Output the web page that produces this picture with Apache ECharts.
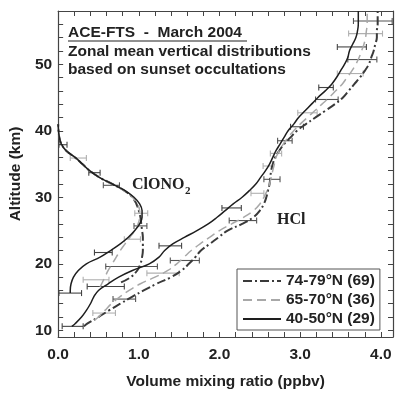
<!DOCTYPE html>
<html>
<head>
<meta charset="utf-8">
<script src="https://cdn.jsdelivr.net/npm/echarts@6/dist/echarts.min.js"></script>
<style>html,body{margin:0;padding:0;background:#fff}#c{width:395px;height:395px}</style>
</head>
<body>
<div id="c"></div>
<script>
// ---------- data (altitude in km, mixing ratio in ppbv) ----------
const seriesNames = ['74-79°N (69)', '65-70°N (36)', '40-50°N (29)'];

// ClONO2 profiles
const clono2AltDD = [17.2,18,19,20,21,22,23,24,25,26,27,28,29,30,31,32,33,34,35,36,37,38,39,40,41];
const clono2DD    = [0.78,0.9,0.98,1.02,1.04,1.05,1.05,1.05,1.04,1.03,1.02,1.0,0.97,0.92,0.82,0.67,0.51,0.39,0.30,0.21,0.10,0.04,0.015,0.005,0.0];
const clono2AltDa = [16.5,17,18,19,20,21,22,23,24,25,26,27,28,29,30,31,32,33,34,35,36,37,38,39,40,41];
const clono2Da    = [0.52,0.54,0.58,0.62,0.67,0.72,0.77,0.83,0.89,0.95,0.99,1.01,1.01,0.98,0.92,0.82,0.66,0.51,0.39,0.30,0.21,0.10,0.04,0.015,0.005,0.0];
const clono2AltSo = [15.6,16,17,18,19,20,21,22,23,24,25,26,27,28,29,30,31,32,33,34,35,36,37,38,39,40,41];
const clono2So    = [0.15,0.15,0.16,0.19,0.25,0.35,0.52,0.65,0.77,0.87,0.95,1.01,1.04,1.04,1.01,0.94,0.83,0.67,0.51,0.39,0.30,0.21,0.10,0.04,0.015,0.005,0.0];

// HCl profiles
const hclAltDD = [10.6,11,12,13,14,15,16,17,18,19,20,21,22,23,24,25,26,27,28,29,30,31,32,33,34,35,36,37,38,39,40,41,42,43,44,45,46,47,48,49,50,51,52,53,54,55,56,58];
const hclDD    = [0.32,0.36,0.5,0.63,0.77,0.91,1.06,1.22,1.4,1.53,1.62,1.7,1.77,1.88,1.99,2.1,2.28,2.42,2.5,2.55,2.58,2.6,2.62,2.63,2.64,2.66,2.69,2.74,2.8,2.88,2.96,3.07,3.19,3.31,3.43,3.53,3.6,3.67,3.74,3.8,3.85,3.88,3.91,3.93,3.95,3.95,3.96,3.96];
const hclAltDa = [11.5,12,13,14,15,16,17,18,19,20,21,22,23,24,25,26,27,28,29,30,31,32,33,34,35,36,37,38,39,40,41,42,43,44,45,46,47,48,49,50,51,52,53,54,55,56,58];
const hclDa    = [0.45,0.5,0.58,0.66,0.76,0.88,1.02,1.2,1.36,1.47,1.56,1.65,1.76,1.88,2.0,2.15,2.3,2.42,2.5,2.55,2.59,2.62,2.64,2.66,2.68,2.7,2.74,2.79,2.85,2.92,3.0,3.09,3.18,3.27,3.36,3.44,3.52,3.58,3.64,3.69,3.73,3.76,3.79,3.81,3.82,3.83,3.83];
const hclAltSo = [10.6,11,12,13,14,15,16,17,18,19,20,21,22,23,24,25,26,27,28,29,30,31,32,33,34,35,36,37,38,39,40,41,42,43,44,45,46,47,48,49,50,51,52,53,54,55,56,57,58];
const hclSo    = [0.17,0.21,0.29,0.35,0.40,0.44,0.5,0.62,0.75,0.92,1.13,1.25,1.32,1.42,1.57,1.72,1.86,1.97,2.07,2.17,2.28,2.37,2.45,2.51,2.57,2.62,2.66,2.7,2.75,2.8,2.85,2.92,2.98,3.06,3.14,3.22,3.31,3.39,3.45,3.5,3.55,3.59,3.61,3.65,3.69,3.71,3.72,3.72,3.72];

// error bars: altitude, centre value, half width
const errAltDD = [14.7,20.5,26.5,32.7,38.5,44.7,50.7,56.5,19.6,25.7,31.8];
const errMidDD = [0.82,1.57,2.29,2.65,2.81,3.33,3.77,3.90,0.91,1.02,0.66];
const errHalfDD= [0.14,0.18,0.17,0.10,0.09,0.14,0.18,0.24,0.32,0.08,0.10];
const errAltDa = [12.6,18.6,30.6,34.7,36.6,42.7,48.6,54.6,17.6,23.7,27.6,35.9];
const errMidDa = [0.57,1.30,2.47,2.60,2.70,3.09,3.62,3.81,0.47,0.92,1.03,0.25];
const errHalfDa= [0.14,0.20,0.08,0.06,0.07,0.12,0.16,0.21,0.16,0.10,0.08,0.10];
const errAltSo = [10.6,16.6,22.7,28.4,40.6,46.5,52.6,15.6,21.7,33.7,37.9];
const errMidSo = [0.18,0.59,1.39,2.15,2.96,3.32,3.64,0.15,0.56,0.45,0.06];
const errHalfSo= [0.13,0.23,0.14,0.12,0.08,0.09,0.18,0.14,0.11,0.07,0.05];

// axis ticks / labels
const xTicks = [0,0.2,0.4,0.6,0.8,1.0,1.2,1.4,1.6,1.8,2.0,2.2,2.4,2.6,2.8,3.0,3.2,3.4,3.6,3.8,4.0];
const xLabels = [0,1,2,3,4];
const yTicks = [10,12,14,16,18,20,22,24,26,28,30,32,34,36,38,40,42,44,46,48,50,52,54,56];
const yLabels = [10,20,30,40,50];

// ---------- chart ----------
const FONT = '"Liberation Sans", Arial, sans-serif';
const SERIF = '"Liberation Serif", "Times New Roman", serif';
const colDD = '#3a3a3a', colDa = '#a8a8a8', colSo = '#1e1e1e';

function pairs(vals, alts) { return vals.map((v, i) => [v, alts[i]]); }
function errData(alts, mids, halves) { return alts.map((a, i) => [a, mids[i] - halves[i], mids[i] + halves[i]]); }

function errRender(params, api) {
  const y = api.value(0), lo = api.value(1), hi = api.value(2);
  const p1 = api.coord([lo, y]), p2 = api.coord([hi, y]);
  const cap = 3;
  const style = { stroke: api.visual('color'), lineWidth: 1.1 };
  return { type: 'group', children: [
    { type: 'line', shape: { x1: p1[0], y1: p1[1], x2: p2[0], y2: p2[1] }, style },
    { type: 'line', shape: { x1: p1[0], y1: p1[1] - cap, x2: p1[0], y2: p1[1] + cap }, style },
    { type: 'line', shape: { x1: p2[0], y1: p2[1] - cap, x2: p2[0], y2: p2[1] + cap }, style }
  ]};
}

const axisLineStyle = { color: '#444', width: 1.2 };
function xAx(pos, showLabels) {
  return {
    type: 'value', position: pos, min: 0, max: 4.15,
    axisLine: { show: true, onZero: false, lineStyle: axisLineStyle },
    axisTick: { show: true, inside: true, length: 5, customValues: xTicks, lineStyle: { color: '#444', width: 1 } },
    axisLabel: { show: showLabels, customValues: xLabels, formatter: v => v.toFixed(1), fontFamily: FONT, fontWeight: 'bold', fontSize: 15.5, color: '#222', margin: 10 },
    splitLine: { show: false },
    name: showLabels ? 'Volume mixing ratio (ppbv)' : '', nameLocation: 'middle', nameGap: 37,
    nameTextStyle: { fontFamily: FONT, fontWeight: 'bold', fontSize: 15.5, color: '#222' }
  };
}
function yAx(pos, showLabels) {
  return {
    type: 'value', position: pos, min: 9, max: 58,
    axisLine: { show: true, onZero: false, lineStyle: axisLineStyle },
    axisTick: { show: true, inside: true, length: 5, customValues: yTicks, lineStyle: { color: '#444', width: 1 } },
    axisLabel: { show: showLabels, customValues: yLabels, fontFamily: FONT, fontWeight: 'bold', fontSize: 15.5, color: '#222', margin: 6 },
    splitLine: { show: false },
    name: showLabels ? 'Altitude (km)' : '', nameLocation: 'middle', nameGap: 24, nameRotate: 90,
    nameTextStyle: { fontFamily: FONT, fontWeight: 'bold', fontSize: 15.5, color: '#222' }
  };
}

function lineSeries(name, data, color, width, type) {
  return { type: 'line', name, data, showSymbol: false, symbol: 'none', smooth: 0.4,
    lineStyle: { color, width, type }, itemStyle: { color }, z: 3, silent: true, animation: false };
}
function errSeries(name, data, color) {
  return { type: 'custom', name: name, data, renderItem: errRender, itemStyle: { color },
    encode: { x: [1, 2], y: 0 }, z: 2, silent: true, animation: false };
}

const dd = [9, 3, 2, 3], da = [9, 5];
const option = {
  animation: false,
  grid: { left: 55, right: 2, top: 11, bottom: 44, containLabel: false },
  xAxis: [xAx('bottom', true), xAx('top', false)],
  yAxis: [yAx('left', true), yAx('right', false)],
  legend: {
    data: seriesNames, orient: 'vertical', left: 237, top: 269,
    padding: [4, 5, 3, 5], itemGap: 3, itemWidth: 38, itemHeight: 14,
    borderColor: '#555', borderWidth: 1, backgroundColor: '#fff',
    itemStyle: { opacity: 0 },
    textStyle: { fontFamily: FONT, fontWeight: 'bold', fontSize: 15.5, color: '#222', lineHeight: 16 },
    selectedMode: false
  },
  graphic: [
    { type: 'text', left: 68, top: 25, style: { text: 'ACE-FTS  -  March 2004', font: 'bold 15.5px ' + FONT, fill: '#222' } },
    { type: 'line', shape: { x1: 68, y1: 41, x2: 247, y2: 41 }, style: { stroke: '#222', lineWidth: 1.2 } },
    { type: 'text', left: 68, top: 43.5, style: { text: 'Zonal mean vertical distributions', font: 'bold 15.5px ' + FONT, fill: '#222' } },
    { type: 'text', left: 68, top: 62, style: { text: 'based on sunset occultations', font: 'bold 15.5px ' + FONT, fill: '#222' } },
    { type: 'text', left: 132, top: 177, style: { text: 'ClONO', font: 'bold 16px ' + SERIF, fill: '#222' } },
    { type: 'text', left: 185, top: 186, style: { text: '2', font: 'bold 11px ' + SERIF, fill: '#222' } },
    { type: 'text', left: 277, top: 212, style: { text: 'HCl', font: 'bold 16px ' + SERIF, fill: '#222' } }
  ],
  series: [
    lineSeries(seriesNames[0], pairs(clono2DD, clono2AltDD), colDD, 2, dd),
    lineSeries(seriesNames[1], pairs(clono2Da, clono2AltDa), colDa, 1.5, da),
    lineSeries(seriesNames[2], pairs(clono2So, clono2AltSo), colSo, 1.5, 'solid'),
    lineSeries(seriesNames[0], pairs(hclDD, hclAltDD), colDD, 2, dd),
    lineSeries(seriesNames[1], pairs(hclDa, hclAltDa), colDa, 1.5, da),
    lineSeries(seriesNames[2], pairs(hclSo, hclAltSo), colSo, 1.5, 'solid'),
    errSeries('errDD', errData(errAltDD, errMidDD, errHalfDD), '#555'),
    errSeries('errDa', errData(errAltDa, errMidDa, errHalfDa), '#b0b0b0'),
    errSeries('errSo', errData(errAltSo, errMidSo, errHalfSo), '#444')
  ]
};
const chart = echarts.init(document.getElementById('c'), null, { renderer: 'canvas' });
chart.setOption(option);
</script>
</body>
</html>
